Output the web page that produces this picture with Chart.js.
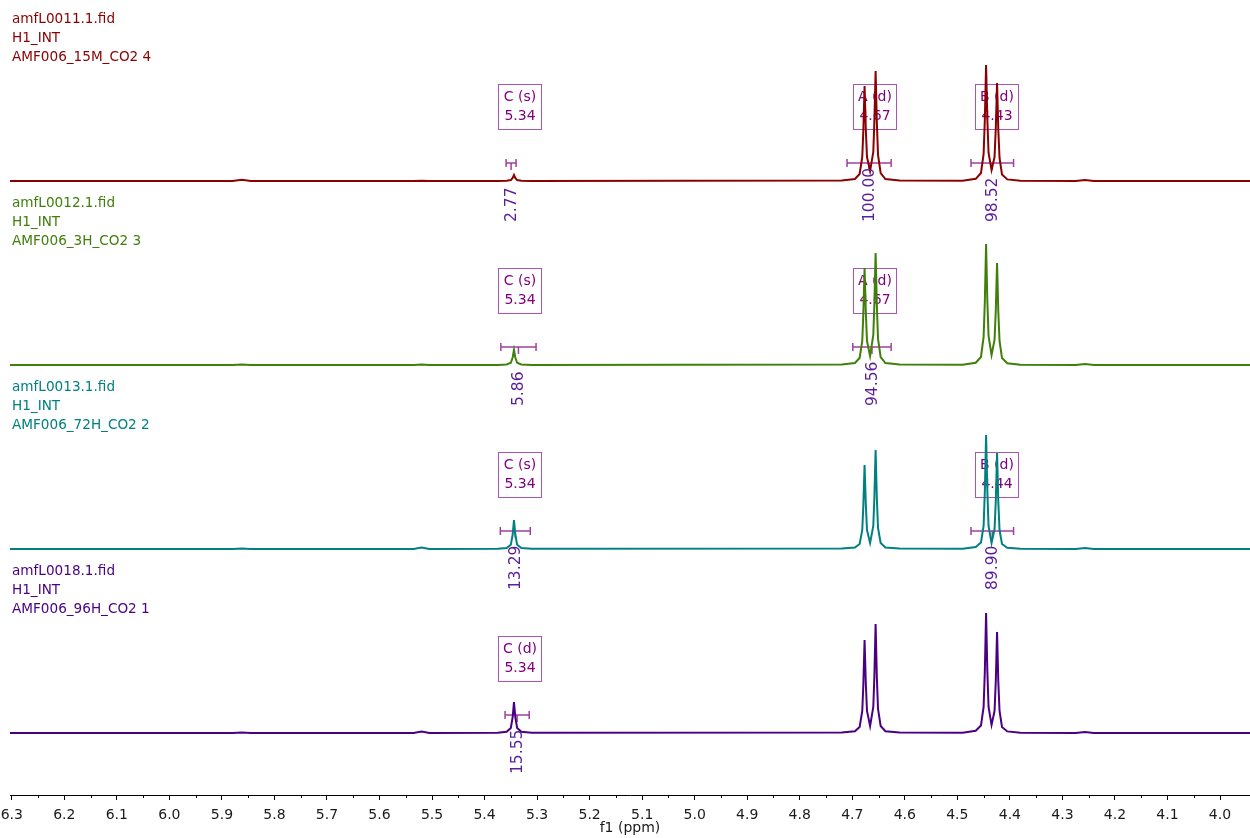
<!DOCTYPE html>
<html>
<head>
<meta charset="utf-8">
<script src="https://cdn.jsdelivr.net/npm/chart.js@4.4.1/dist/chart.umd.min.js"></script>
<style>
    html, body { margin: 0; padding: 0; background: #fff; }
    canvas { display: block; }
</style>
</head>
<body>
<canvas id="nmrChart" width="1250" height="838"></canvas>
<script>
// Chemical shift points (ppm) shared by all four spectra
const ppm = [6.3034, 5.880, 5.862, 5.845, 5.535, 5.520, 5.505, 5.375, 5.358, 5.350, 5.3465, 5.344, 5.3415, 5.338, 5.330, 5.310,
    4.720, 4.695, 4.686, 4.681, 4.679, 4.6766, 4.6742, 4.672, 4.6661, 4.6600, 4.6580, 4.6556, 4.6532, 4.651, 4.646, 4.637, 4.610,
    4.490, 4.465, 4.455, 4.450, 4.4477, 4.4453, 4.4429, 4.4406, 4.4349, 4.4292, 4.4268, 4.4244, 4.4220, 4.4197, 4.415, 4.405, 4.380,
    4.275, 4.257, 4.240, 3.9429];

// Intensities, one array per spectrum (top to bottom)
const spec15M = [0, 0, 1.2, 0, 0, 0.3, 0, 0, 0.2, 0.9, 3, 6, 3, 0.9, 0.2, 0,
    0.5, 2, 7, 24, 50, 95, 51, 24, 10, 29, 59, 110, 58, 26, 8, 2, 0.5,
    0.3, 2.2, 8, 27, 61, 116, 62, 28, 11, 24, 53, 98, 51, 23, 6.5, 1.6, 0.3,
    0, 1, 0, 0];
const spec3H = [0, 0, 0.5, 0, 0, 0.5, 0, 0.1, 0.5, 2.2, 7.5, 15, 7.5, 2.2, 0.5, 0.1,
    0.5, 2, 7, 24, 51, 97, 52, 24, 9, 30, 60, 112, 59, 26, 8, 2, 0.5,
    0.3, 2.3, 8, 28, 63, 121, 64, 29, 10, 25, 55, 102, 53, 24, 7, 1.7, 0.3,
    0, 1, 0, 0];
const spec72H = [0, 0, 0.5, 0, 0, 1.5, 0, 0.2, 0.9, 4.3, 14.5, 29, 14.5, 4.3, 0.9, 0.2,
    0.4, 1.5, 5, 19, 43, 84, 44, 19, 6, 23, 51, 99, 50, 21, 6, 1.5, 0.4,
    0.3, 2, 6.5, 23, 57, 114, 58, 23, 6, 20, 48, 96, 47, 19, 5, 1.3, 0.3,
    0, 1, 0, 0];
const spec96H = [0, 0, 0.5, 0, 0, 1.5, 0, 0.3, 1.2, 5, 16, 31, 16, 5, 1.2, 0.3,
    0.5, 1.8, 6, 22, 48, 93, 49, 22, 7, 26, 56, 109, 55, 24, 7, 1.8, 0.5,
    0.3, 2.2, 7.5, 26, 61, 120, 62, 26, 8, 22, 52, 101, 51, 22, 6, 1.6, 0.3,
    0, 1, 0, 0];

const sampleLabels = [
    ['amfL0011.1.fid', 'H1_INT', 'AMF006_15M_CO2 4'],
    ['amfL0012.1.fid', 'H1_INT', 'AMF006_3H_CO2 3'],
    ['amfL0013.1.fid', 'H1_INT', 'AMF006_72H_CO2 2'],
    ['amfL0018.1.fid', 'H1_INT', 'AMF006_96H_CO2 1']
];

// Multiplet boxes
const boxRow = [0, 0, 0, 1, 1, 2, 2, 3];
const boxName = ['C (s)', 'A (d)', 'B (d)', 'C (s)', 'A (d)', 'C (s)', 'B (d)', 'C (d)'];
const boxShift = ['5.34', '4.67', '4.43', '5.34', '4.67', '5.34', '4.44', '5.34'];
const boxPpm = [5.332, 4.656, 4.425, 5.332, 4.656, 5.332, 4.425, 5.332];

// Integrals
const intRow = [0, 0, 0, 1, 1, 2, 2, 3];
const intFrom = [5.359, 4.710, 4.474, 5.369, 4.699, 5.370, 4.474, 5.361];
const intTo = [5.340, 4.626, 4.393, 5.302, 4.626, 5.313, 4.393, 5.315];
const intValue = ['2.77', '100.00', '98.52', '5.86', '94.56', '13.29', '89.90', '15.55'];

// Axis ticks
const majorTicks = [4.0, 4.1, 4.2, 4.3, 4.4, 4.5, 4.6, 4.7, 4.8, 4.9, 5.0, 5.1, 5.2, 5.3, 5.4, 5.5, 5.6, 5.7, 5.8, 5.9, 6.0, 6.1, 6.2, 6.3];
const minorTicks = [4.05, 4.15, 4.25, 4.35, 4.45, 4.55, 4.65, 4.75, 4.85, 4.95, 5.05, 5.15, 5.25, 5.35, 5.45, 5.55, 5.65, 5.75, 5.85, 5.95, 6.05, 6.15, 6.25];

// Layout
const rowBaseline = [181, 365, 549, 733];
const plotBottom = 795;
const colors = ['#8B0000', '#3F7F0A', '#008080', '#4B0082'];
const annoBox = '#A855B5';
const annoText = '#800080';
const intColor = '#A040A0';
const intText = '#5A1E9A';
const FONT = '"DejaVu Sans", Verdana, sans-serif';

const spectra = [spec15M, spec3H, spec72H, spec96H];

const yScales = {};
rowBaseline.forEach((b, i) => {
    yScales['y' + i] = {
        type: 'linear',
        display: false,
        min: -(plotBottom - b),
        max: b
    };
});

const annotations = {
    id: 'annotations',
    beforeDatasetsDraw(chart) {
        const ctx = chart.ctx;
        const xs = chart.scales.x;
        ctx.save();
        // multiplet boxes
        boxPpm.forEach((p, i) => {
            const b = rowBaseline[boxRow[i]];
            const cx = Math.round(xs.getPixelForValue(p));
            ctx.strokeStyle = annoBox;
            ctx.lineWidth = 1;
            ctx.strokeRect(cx - 21.5, b - 96.5, 43, 45);
            ctx.fillStyle = annoText;
            ctx.font = '14px ' + FONT;
            ctx.textAlign = 'center';
            ctx.textBaseline = 'middle';
            ctx.fillText(boxName[i], cx, b - 84);
            ctx.fillText(boxShift[i], cx, b - 65);
        });
        // integral bars
        intFrom.forEach((p, i) => {
            const b = rowBaseline[intRow[i]];
            const x1 = xs.getPixelForValue(p);
            const x2 = xs.getPixelForValue(intTo[i]);
            const y = b - 18;
            ctx.strokeStyle = intColor;
            ctx.lineWidth = 1.5;
            ctx.beginPath();
            ctx.moveTo(x1, y); ctx.lineTo(x2, y);
            ctx.moveTo(x1, y - 4); ctx.lineTo(x1, y + 4);
            ctx.moveTo(x2, y - 4); ctx.lineTo(x2, y + 4);
            const cx = (x1 + x2) / 2;
            ctx.moveTo(cx, y); ctx.lineTo(cx, y + 7);
            ctx.stroke();
        });
        ctx.restore();
    },
    afterDatasetsDraw(chart) {
        const ctx = chart.ctx;
        const xs = chart.scales.x;
        ctx.save();
        intFrom.forEach((p, i) => {
            const b = rowBaseline[intRow[i]];
            const cx = (xs.getPixelForValue(p) + xs.getPixelForValue(intTo[i])) / 2;
            ctx.save();
            ctx.translate(cx, b + 41);
            ctx.rotate(-Math.PI / 2);
            ctx.fillStyle = intText;
            ctx.font = '15.5px ' + FONT;
            ctx.textAlign = 'left';
            ctx.textBaseline = 'middle';
            ctx.fillText(intValue[i], 0, 1);
            ctx.restore();
        });
        // sample labels
        ctx.font = '13.6px ' + FONT;
        ctx.textAlign = 'left';
        ctx.textBaseline = 'middle';
        sampleLabels.forEach((lines, r) => {
            ctx.fillStyle = colors[r];
            lines.forEach((t, k) => {
                ctx.fillText(t, 12, rowBaseline[r] - 162 + k * 19);
            });
        });
        // minor ticks on the ppm axis
        ctx.strokeStyle = '#000';
        ctx.lineWidth = 1;
        ctx.beginPath();
        minorTicks.forEach(v => {
            const x = Math.round(xs.getPixelForValue(v)) + 0.5;
            ctx.moveTo(x, plotBottom);
            ctx.lineTo(x, plotBottom + 3);
        });
        ctx.stroke();
        ctx.restore();
    }
};

const nmrCtx = document.getElementById('nmrChart').getContext('2d');
const nmrChart = new Chart(nmrCtx, {
    type: 'line',
    data: {
        datasets: spectra.map((s, i) => ({
            label: sampleLabels[i][0],
            data: ppm.map((p, k) => ({ x: p, y: s[k] })),
            yAxisID: 'y' + i,
            borderColor: colors[i],
            borderWidth: 2,
            pointRadius: 0,
            tension: 0,
            fill: false
        }))
    },
    options: {
        responsive: false,
        animation: false,
        devicePixelRatio: 1,
        layout: {
            padding: { left: 10, right: 0, top: 0, bottom: 0 }
        },
        plugins: {
            legend: { display: false },
            tooltip: { enabled: false }
        },
        scales: Object.assign({
            x: {
                type: 'linear',
                reverse: true,
                min: 3.9429,
                max: 6.3034,
                afterBuildTicks: function(scale) {
                    scale.ticks = majorTicks.map(v => ({ value: v }));
                },
                afterFit: function(scale) {
                    scale.height = 43;
                },
                ticks: {
                    autoSkip: false,
                    maxRotation: 0,
                    padding: 7,
                    color: '#1a1a1a',
                    font: { family: FONT, size: 14 },
                    callback: function(value) {
                        return Number(value).toFixed(1);
                    }
                },
                grid: {
                    display: true,
                    drawOnChartArea: false,
                    drawTicks: true,
                    tickLength: 5,
                    color: '#000'
                },
                border: {
                    display: true,
                    color: '#000',
                    width: 1
                },
                title: {
                    display: true,
                    text: 'f1 (ppm)',
                    color: '#1a1a1a',
                    font: { family: FONT, size: 14 },
                    padding: { top: 0, bottom: 1 }
                }
            }
        }, yScales)
    },
    plugins: [annotations]
});
</script>
</body>
</html>
